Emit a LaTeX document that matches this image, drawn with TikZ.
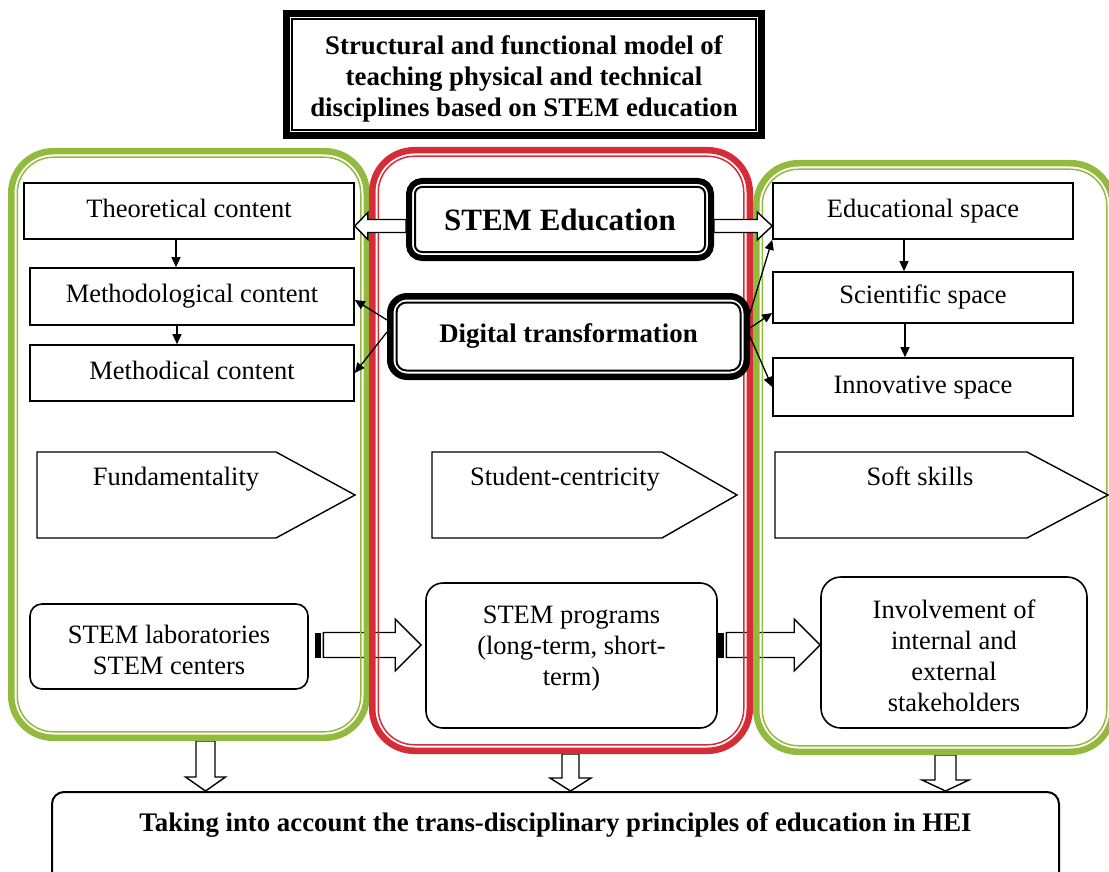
\documentclass[tikz,border=0pt]{standalone}
\usepackage{fontspec}
\setmainfont{Liberation Serif}
\usetikzlibrary{calc,arrows.meta,fit}
\definecolor{pgreen}{RGB}{146,186,62}
\definecolor{pred}{RGB}{214,44,56}
\newcommand\regf{\fontsize{13.25pt}{15.5pt}\selectfont}
\newcommand\boldf{\fontsize{13.4pt}{15.5pt}\selectfont\bfseries}
\newcommand\bigbf{\fontsize{15.5pt}{18pt}\selectfont\bfseries}
\pgfdeclarelayer{back}
\pgfsetlayers{back,main}
\begin{document}
\begin{tikzpicture}[x=0.5pt,y=-0.5pt,
  sz/.style 2 args={minimum width=#1*0.5pt,minimum height=#2*0.5pt},
  box/.style={draw,line width=0.8pt,fill=white,inner sep=0pt,align=center,font=\regf},
  rbox/.style={box,rounded corners=#1},
  one/.style={text height=9.25pt,text depth=3.25pt},
  panel/.style={draw=#1,line width=3.25pt,rounded corners=21pt,inner sep=0pt},
  pthin/.style={draw=#1,line width=0.75pt,rounded corners=18pt},
  dblk/.style={draw,line width=#1,inner sep=0pt,align=center,fill=white},
  inthin/.style={draw,line width=1pt,rounded corners=#1},
  tarr/.style={line width=0.65pt,-{Triangle[length=5pt,width=4.5pt]}},
  pent/.style={draw,line width=0.7pt,fill=white},
  lbl/.style={font=\regf,inner sep=0pt,one},
  blk/.style n args={3}{draw,line width=0.7pt,fill=white,line join=miter,
    to path={let \p1=($(\tikztotarget)!#3!(\tikztostart)$) in
      ($(\tikztostart)!#1!90:(\tikztotarget)$) -- ($(\p1)!#1!90:(\tikztotarget)$)
      -- ($(\p1)!#2!90:(\tikztotarget)$) -- (\tikztotarget)
      -- ($(\p1)!#2!-90:(\tikztotarget)$) -- ($(\p1)!#1!-90:(\tikztotarget)$)
      -- ($(\tikztostart)!#1!-90:(\tikztotarget)$) -- cycle}}
]
\useasboundingbox (0,0) rectangle (1109,872);

% ---------- panels ----------
\node[panel=pgreen, fit={(11.25,151.25)(366.75,737.75)}] (lp) {};
\draw[pthin=pgreen] ([shift={(9.25,9.25)}]lp.north west) rectangle ([shift={(-9.25,-9.25)}]lp.south east);
\node[panel=pred, fit={(372.25,150.25)(749.75,750.75)}] (mp) {};
\draw[pthin=pred] ([shift={(9.25,9.25)}]mp.north west) rectangle ([shift={(-9.25,-9.25)}]mp.south east);
\node[panel=pgreen, fit={(756.25,163.25)(1112.75,751.75)}] (rp) {};
\draw[pthin=pgreen] ([shift={(9.25,9.25)}]rp.north west) rectangle ([shift={(-9.25,-9.25)}]rp.south east);

% ---------- title ----------
\node[dblk=3.5pt, font=\boldf, sz={475}{122}] (title) at (524,74.5)
  {\mbox{}\\[-1.2pt]Structural and functional model of\\teaching physical and technical\\disciplines based on STEM education};
\draw[line width=0.75pt] ([shift={(9,9)}]title.north west) rectangle ([shift={(-9,-9)}]title.south east);

% ---------- centre boxes ----------
\node[dblk=3pt, rounded corners=6.5pt, font=\bigbf, sz={302}{77}] (sted) at (560,219.5) {STEM Education};
\draw[inthin=3.5pt] ([shift={(9,9)}]sted.north west) rectangle ([shift={(-9,-9)}]sted.south east);
\node[dblk=3.25pt, rounded corners=8.4pt, font=\boldf, sz={356.5}{80.5}] (dig) at (568.5,336.5) {Digital transformation};
\draw[inthin=5pt] ([shift={(9.5,9.5)}]dig.north west) rectangle ([shift={(-9.5,-9.5)}]dig.south east);

% ---------- left boxes ----------
\node[box, one, sz={330}{56}] (theo) at (189,211) {Theoretical content};
\node[box, one, sz={324}{57}] (meth) at (192,296.5) {Methodological content};
\node[box, one, sz={324}{56}] (methd) at (192,373) {Methodical content};

% ---------- right boxes ----------
\node[box, one, sz={300}{56}] (edu) at (923,211) {Educational space};
\node[box, one, sz={300}{51}] (sci) at (923,297.5) {Scientific space};
\node[box, one, sz={300}{58}] (inn) at (923,387) {Innovative space};

% ---------- pentagons ----------
\draw[pent] (37,452) -- (276,452) -- (355,495) -- (276,538) -- (37,538) -- cycle;
\node[lbl] (fund) at (176,479) {Fundamentality};
\draw[pent] (432,452) -- (662,452) -- (737,495) -- (662,538) -- (432,538) -- cycle;
\node[lbl] (stud) at (565,479) {Student-centricity};
\draw[pent] (775,452) -- (1027,452) -- (1108,495) -- (1027,538) -- (775,538) -- cycle;
\node[lbl] (soft) at (920,479) {Soft skills};

% ---------- bottom row ----------
\node[rbox=6pt, sz={278}{85}] (lab) at (169,646.5) {\mbox{}\\[-2.5pt]STEM laboratories\\STEM centers};
\node[rbox=8.5pt, sz={291}{145}] (prog) at (571.5,655.5) {STEM programs\\(long-term, short-\\term)\\[-6pt]\mbox{}};
\node[rbox=10pt, sz={266}{151}] (inv) at (954,652.5) {\mbox{}\\[-2.5pt]Involvement of\\internal and\\external\\stakeholders};
\node[rbox=6pt, line width=1pt, font=\boldf, text height=9.5pt, text depth=24.5pt,
      sz={1007}{108}] (bot) at (555.5,846)
  {Taking into account the trans-disciplinary principles of education in HEI};

% ---------- arrows behind panels ----------
\begin{pgfonlayer}{back}
  \coordinate (t1) at ($(lab.east)+(6,-1.5)$);
  \coordinate (t1b) at ($(t1)+(8.5,0)$);
  \coordinate (t1e) at ($(t1 -| prog.west)+(-4,0)$);
  \fill (t1) ++(0,-12.5) rectangle ++(6,25);
  \draw[blk={6.25pt}{13pt}{13pt}] (t1b) to (t1e);

  \coordinate (t2) at ($(prog.east)+(0,-10.5)$);
  \coordinate (t2b) at ($(t2)+(8.5,0)$);
  \coordinate (t2e) at (t2 -| inv.west);
  \fill (t2) ++(0,-12.5) rectangle ++(6,25);
  \draw[blk={6.25pt}{13pt}{13pt}] (t2b) to (t2e);

  \coordinate (d1) at ($(lp.south)+(16.5,0)$);
  \coordinate (d1e) at (d1 |- bot.north);
  \draw[blk={4.75pt}{10pt}{7pt}] (d1) to (d1e);
  \coordinate (d2) at ($(mp.south)+(9.5,0)$);
  \coordinate (d2e) at (d2 |- bot.north);
  \draw[blk={4.25pt}{10.25pt}{6.5pt}] (d2) to (d2e);
  \coordinate (d3) at ($(rp.south)+(11,0)$);
  \coordinate (d3e) at (d3 |- bot.north);
  \draw[blk={5.25pt}{11.75pt}{5.5pt}] (d3) to (d3e);
\end{pgfonlayer}

% ---------- block arrows from STEM Education ----------
\coordinate (s1) at ($(sted.west)+(0,6.5)$);
\coordinate (s1e) at (s1 -| theo.east);
\draw[blk={3.25pt}{6.75pt}{6.5pt}] (s1) to (s1e);
\coordinate (s2) at ($(sted.east)+(0,6.5)$);
\coordinate (s2e) at (s2 -| edu.west);
\draw[blk={3.25pt}{7pt}{7.5pt}] (s2) to (s2e);

% ---------- thin arrows ----------
\draw[tarr] ($(theo.south)+(-13,0)$) -- ($(meth.north)+(-16,0)$);
\draw[tarr] ($(meth.south)+(-15,0)$) -- ($(methd.north)+(-15,0)$);
\draw[tarr] ($(edu.south)+(-19,0)$) -- ($(sci.north)+(-19,0)$);
\draw[tarr] ($(sci.south)+(-18,0)$) -- ($(inn.north)+(-18,0)$);

\draw[tarr] ($(dig.west)+(0,-16.5)$) -- ($(meth.east)+(0,3.5)$);
\draw[tarr] ($(dig.west)+(0,-4.5)$) -- (methd.east);
\draw[tarr] ($(dig.east)+(0,-23.5)$) -- (edu.south west);
\draw[tarr] ($(dig.east)+(0,-8.5)$) -- ($(sci.west)+(0,15.5)$);
\draw[tarr] (dig.east) -- (inn.west);
\end{tikzpicture}
\end{document}
